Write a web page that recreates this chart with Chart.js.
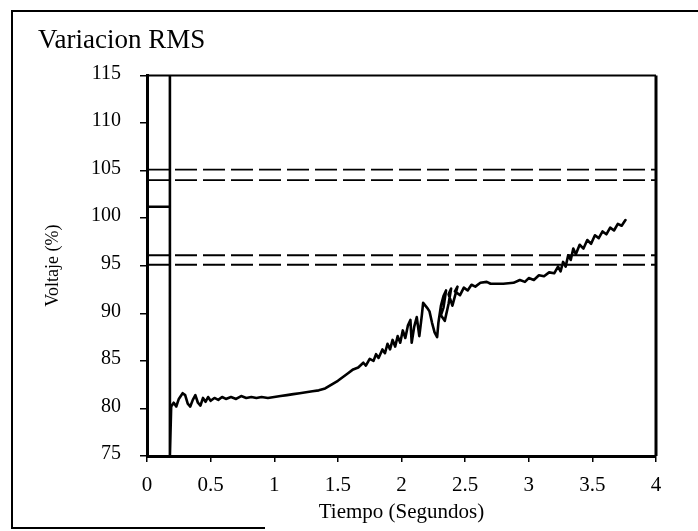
<!DOCTYPE html>
<html>
<head>
<meta charset="utf-8">
<script src="https://cdn.jsdelivr.net/npm/chart.js@4.4.1/dist/chart.umd.min.js"></script>
<style>
    body { margin: 0; background: #fff; }
    canvas { display: block; }
</style>
</head>
<body>
<canvas id="rmsChart" width="698" height="531"></canvas>
<script>
// Datos (tiempo en s, voltaje en %)
const tiempo = [
    0, 0.18, 0.18, 0.18, 0.19, 0.21, 0.23, 0.25, 0.28, 0.30,
    0.32, 0.34, 0.36, 0.38, 0.40, 0.42, 0.44, 0.46, 0.48, 0.50,
    0.53, 0.56, 0.59, 0.62, 0.66, 0.70, 0.74, 0.78, 0.82, 0.86,
    0.90, 0.95, 1.00, 1.05, 1.10, 1.15, 1.20, 1.25, 1.30, 1.35,
    1.40, 1.45, 1.50, 1.54, 1.58, 1.62, 1.66, 1.70, 1.72, 1.75,
    1.78, 1.80, 1.82, 1.85, 1.87, 1.89, 1.91, 1.93, 1.95, 1.97,
    1.99, 2.01, 2.03, 2.05, 2.07, 2.08, 2.10, 2.12, 2.14, 2.16,
    2.17, 2.20, 2.22, 2.24, 2.26, 2.28, 2.29, 2.31, 2.33, 2.35,
    2.33, 2.31, 2.34, 2.37, 2.39, 2.37, 2.40, 2.42, 2.44, 2.42,
    2.46, 2.49, 2.52, 2.55, 2.58, 2.62, 2.67, 2.70, 2.80, 2.88,
    2.93, 2.97, 3.00, 3.04, 3.08, 3.12, 3.16, 3.20, 3.23, 3.25,
    3.27, 3.29, 3.31, 3.33, 3.35, 3.37, 3.40, 3.43, 3.46, 3.49,
    3.52, 3.55, 3.58, 3.61, 3.64, 3.67, 3.70, 3.73, 3.76
];
const voltaje = [
    101.2, 101.2, 115, 75, 80.2, 80.6, 80.2, 81.0, 81.6, 81.4,
    80.5, 80.2, 80.9, 81.4, 80.6, 80.3, 81.1, 80.7, 81.2, 80.8,
    81.1, 80.9, 81.2, 81.0, 81.2, 81.0, 81.3, 81.1, 81.2, 81.1,
    81.2, 81.1, 81.2, 81.3, 81.4, 81.5, 81.6, 81.7, 81.8, 81.9,
    82.1, 82.5, 82.9, 83.3, 83.7, 84.1, 84.3, 84.8, 84.5, 85.2,
    85.0, 85.7, 85.3, 86.2, 85.8, 86.8, 86.2, 87.2, 86.5, 87.6,
    86.9, 88.2, 87.4, 88.7, 89.3, 86.9, 88.6, 89.6, 87.6, 89.8,
    91.1, 90.6, 90.2, 89.0, 88.0, 87.5, 89.0, 90.8, 91.8, 92.4,
    90.6, 89.8, 89.2, 91.0, 92.6, 92.0, 90.8, 91.8, 92.8, 92.3,
    91.9, 92.7, 92.4, 93.0, 92.8, 93.2, 93.3, 93.1, 93.1, 93.2,
    93.5, 93.3, 93.7, 93.5, 94.0, 93.9, 94.3, 94.2, 94.9, 94.4,
    95.4, 94.9, 96.1, 95.6, 96.8, 96.2, 97.2, 96.8, 97.7, 97.3,
    98.2, 97.9, 98.6, 98.3, 99.0, 98.7, 99.4, 99.2, 99.8
];

// Límites de tolerancia (líneas a trazos)
const xLimites = [0, 4];
const limiteSup1 = [105.1, 105.1];
const limiteSup2 = [104.0, 104.0];
const limiteInf1 = [96.1, 96.1];
const limiteInf2 = [95.1, 95.1];

const ticksX = [0, 0.5, 1, 1.5, 2, 2.5, 3, 3.5, 4];
const ticksY = [75, 80, 85, 90, 95, 100, 105, 110, 115];

const FUENTE = 'Liberation Serif';

function puntos(xs, ys) {
    return xs.map((x, i) => ({ x: x, y: ys[i] }));
}

function trazo(ys) {
    return {
        data: puntos(xLimites, ys),
        showLine: true,
        borderColor: '#000',
        borderWidth: 1.8,
        borderDash: [22, 6],
        pointRadius: 0
    };
}

// marco del área de trazado y marco exterior
const marcos = {
    id: 'marcos',
    afterDraw(chart) {
        const { ctx, chartArea } = chart;
        ctx.save();
        ctx.strokeStyle = '#000';
        ctx.lineWidth = 2;
        ctx.beginPath();
        ctx.moveTo(chartArea.left, chartArea.top);
        ctx.lineTo(chartArea.right, chartArea.top);
        ctx.stroke();
        ctx.lineWidth = 3;
        ctx.beginPath();
        ctx.moveTo(chartArea.right, chartArea.top);
        ctx.lineTo(chartArea.right, chartArea.bottom);
        ctx.stroke();
        // marco exterior
        ctx.lineWidth = 2;
        ctx.beginPath();
        ctx.moveTo(700, 11);
        ctx.lineTo(12, 11);
        ctx.lineTo(12, 528);
        ctx.lineTo(265, 528);
        ctx.stroke();
        ctx.restore();
    }
};

new Chart(document.getElementById('rmsChart'), {
    type: 'scatter',
    data: {
        datasets: [
            {
                data: puntos(tiempo, voltaje),
                showLine: true,
                borderColor: '#000',
                borderWidth: 2.6,
                borderJoinStyle: 'round',
                borderCapStyle: 'round',
                pointRadius: 0,
                tension: 0
            },
            trazo(limiteSup1),
            trazo(limiteSup2),
            trazo(limiteInf1),
            trazo(limiteInf2)
        ]
    },
    options: {
        responsive: false,
        animation: false,
        layout: { padding: { left: 38, right: 42, top: 12, bottom: 4 } },
        plugins: {
            legend: { display: false },
            tooltip: { enabled: false },
            title: {
                display: true,
                text: 'Variacion RMS',
                align: 'start',
                color: '#000',
                font: { family: FUENTE, size: 27, weight: 'normal' },
                padding: { top: 13, bottom: 18 }
            }
        },
        scales: {
            x: {
                type: 'linear',
                min: 0,
                max: 4,
                afterBuildTicks: (scale) => { scale.ticks = ticksX.map(v => ({ value: v })); },
                afterFit: (scale) => { scale.height = 71; },
                grid: { drawOnChartArea: false, drawTicks: true, tickLength: 6, color: '#000', lineWidth: 1.5 },
                border: { display: true, color: '#000', width: 3 },
                ticks: {
                    color: '#000',
                    padding: 11,
                    maxRotation: 0,
                    callback: (v) => String(v),
                    font: { family: FUENTE, size: 21 }
                },
                title: {
                    display: true,
                    text: 'Tiempo (Segundos)',
                    color: '#000',
                    font: { family: FUENTE, size: 21 },
                    padding: { top: 0, bottom: 2 }
                }
            },
            y: {
                min: 75,
                max: 115,
                afterBuildTicks: (scale) => { scale.ticks = ticksY.map(v => ({ value: v })); },
                afterFit: (scale) => { scale.width = 109; },
                grid: { drawOnChartArea: false, drawTicks: true, tickLength: 7, color: '#000', lineWidth: 1.5 },
                border: { display: true, color: '#000', width: 3 },
                ticks: {
                    color: '#000',
                    padding: 19,
                    labelOffset: -2,
                    callback: (v) => String(v),
                    font: { family: FUENTE, size: 20 }
                },
                title: {
                    display: true,
                    text: 'Voltaje (%)',
                    color: '#000',
                    font: { family: FUENTE, size: 18 },
                    padding: { top: 4, bottom: 0 }
                }
            }
        }
    },
    plugins: [marcos]
});
</script>
</body>
</html>
